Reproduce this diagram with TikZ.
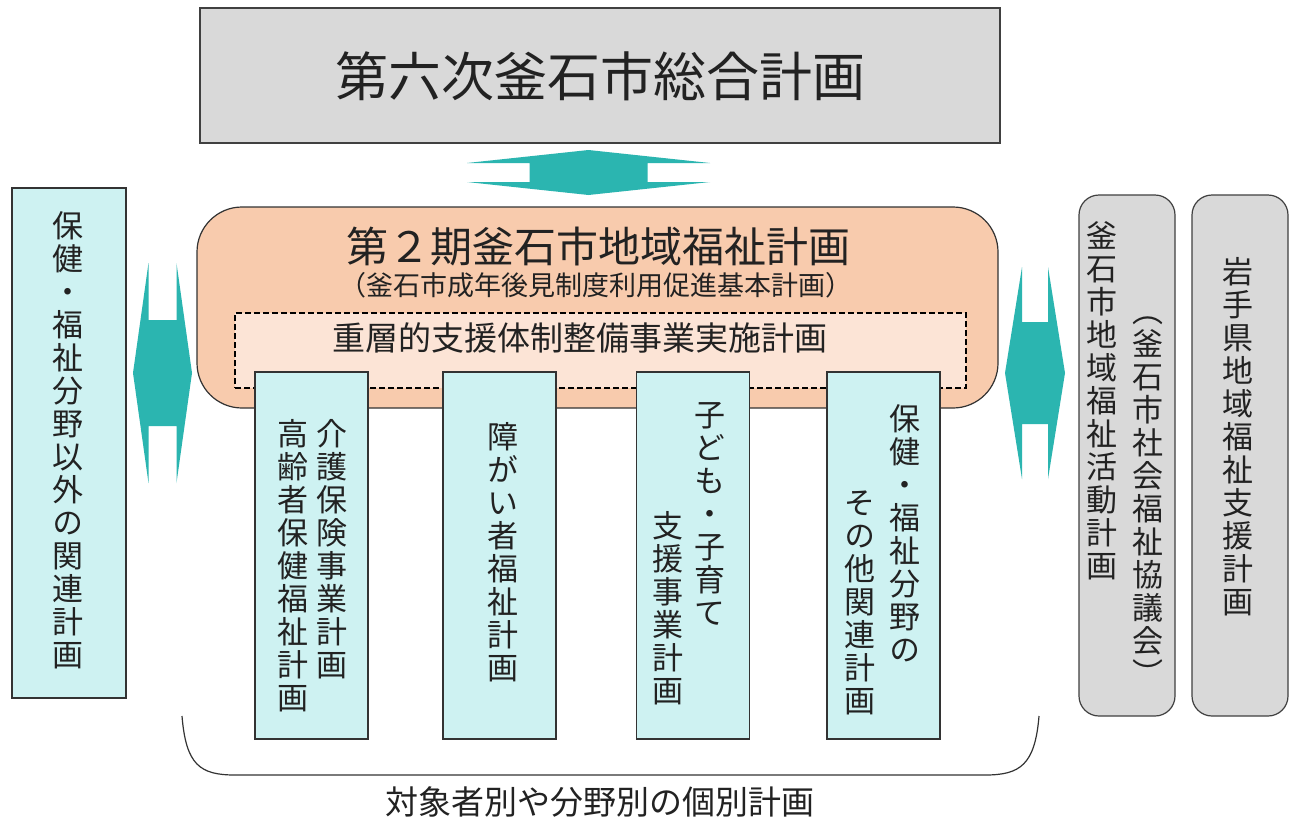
\documentclass[tikz,border=0pt]{standalone}
\usepackage{fontspec}
\setmainfont{Noto Sans CJK JP}
\newfontfamily\tatefont[RawFeature=+vert]{Noto Sans CJK JP}
\ExplSyntaxOn
\NewDocumentCommand\tate{m}{\vbox{\tatefont\tl_map_inline:nn{#1}{\hbox_to_wd:nn{1em}{\hss##1\hss}}}}
\ExplSyntaxOff
\definecolor{tealarrow}{RGB}{43,181,176}
\definecolor{grayfill}{RGB}{217,217,217}
\definecolor{peach}{RGB}{248,203,173}
\definecolor{lightpeach}{RGB}{252,228,214}
\definecolor{cyanfill}{RGB}{206,242,242}
\definecolor{ink}{RGB}{34,34,34}
% fat double arrow: center, rotation, apex, barb, head half width, shaft half width
\newcommand\fatarrow[6]{%
  \fill[tealarrow,shift={#1},rotate=#2] (0,#3) -- (#5,#4) -- (#6,#4) -- (#6,-#4) -- (#5,-#4)
    -- (0,-#3) -- (-#5,-#4) -- (-#6,-#4) -- (-#6,#4) -- (-#5,#4) -- cycle;}
\begin{document}
\begin{tikzpicture}[x=1pt,y=-1pt,
    graybox/.style={draw=black!75,fill=grayfill,line width=1.2pt},
    cyanbox/.style={draw=black!80,fill=cyanfill,line width=1.2pt,minimum width=113,minimum height=367},
    tatetext/.style={inner sep=0pt,anchor=north,text=ink,font=\fontsize{31}{33}\selectfont},
    yokotext/.style={inner sep=0pt,text=ink}]
  \useasboundingbox[fill=white] (0,0) rectangle (1292,825);

  % upper plan
  \node[graybox,minimum width=800,minimum height=135] (sogo) at (600,75.5) {};
  \node[yokotext,font=\fontsize{53}{53}\selectfont] (sogotitle) at (600,76) {第六次釜石市総合計画};
  \fatarrow{(588.5,172.5)}{0}{22.5}{9.5}{121.5}{59}

  % main plan
  \node[draw=black!80,fill=peach,line width=1.2pt,rounded corners=45,minimum width=801,minimum height=201] (chiiki) at (597.5,307.5) {};
  \node[yokotext,font=\fontsize{42}{42}\selectfont] (chiikititle) at (598,247) {第２期釜石市地域福祉計画};
  \node[yokotext,font=\fontsize{27}{27}\selectfont] (seinen) at (596,285) {（釜石市成年後見制度利用促進基本計画）};
  \node[draw=black,fill=lightpeach,line width=1.5pt,dash pattern=on 6pt off 3pt,minimum width=731,minimum height=75] (juso) at (600.5,350.5) {};
  \node[yokotext,font=\fontsize{33}{33}\selectfont] (jusotitle) at (580,338) {重層的支援体制整備事業実施計画};

  % side arrows
  \fatarrow{(162.5,373)}{90}{29.5}{14}{110}{53}
  \fatarrow{(1035,373)}{90}{30}{13}{106}{51}

  % individual plans
  \node[cyanbox] (korei) at (311.5,555.5) {};
  \node[cyanbox] (shogai) at (499.5,555.5) {};
  \node[cyanbox] (kodomo) at (693,555.5) {};
  \node[cyanbox] (sonota) at (883.5,555.5) {};
  \node[tatetext] (kaigo) at (332,419) {\tate{介護保険事業計画}};
  \node[tatetext] (koreitext) at (293,419) {\tate{高齢者保健福祉計画}};
  \node[tatetext] (shogaitext) at (503,422) {\tate{障がい者福祉計画}};
  \node[tatetext] (kodomotext) at (710,402) {\tate{子ども・子育て}};
  \node[tatetext] (shien) at (668,511) {\tate{支援事業計画}};
  \node[tatetext] (hoken) at (905,404) {\tate{保健・福祉分野の}};
  \node[tatetext] (sonotatext) at (860,491) {\tate{その他関連計画}};

  % left plan
  \node[cyanbox,minimum width=114,minimum height=510] (igai) at (69,443) {};
  \node[tatetext] (igaitext) at (68,211) {\tate{保健・福祉分野以外の関連計画}};

  % right plans
  \node[graybox,rounded corners=20,minimum width=96,minimum height=521] (katsudo) at (1127,455.5) {};
  \node[graybox,rounded corners=20,minimum width=96,minimum height=521] (iwate) at (1240,455.5) {};
  \node[tatetext] (katsudotext) at (1102,221) {\tate{釜石市地域福祉活動計画}};
  \node[tatetext] (shakyo) at (1148,317) {\tate{（釜石市社会福祉協議会）}};
  \node[tatetext] (iwatetext) at (1238,257) {\tate{岩手県地域福祉支援計画}};

  % bracket
  \coordinate (brL) at (182,716);
  \coordinate (brR) at (1039,716);
  \draw[black!80,line width=1.2pt] (brL) .. controls (186,765) and (200,775) .. (235,775) -- (985,775)
    .. controls (1020,775) and (1035,765) .. (brR);
  \node[yokotext,font=\fontsize{33}{33}\selectfont] (kobetsu) at (600,802) {対象者別や分野別の個別計画};
\end{tikzpicture}
\end{document}
